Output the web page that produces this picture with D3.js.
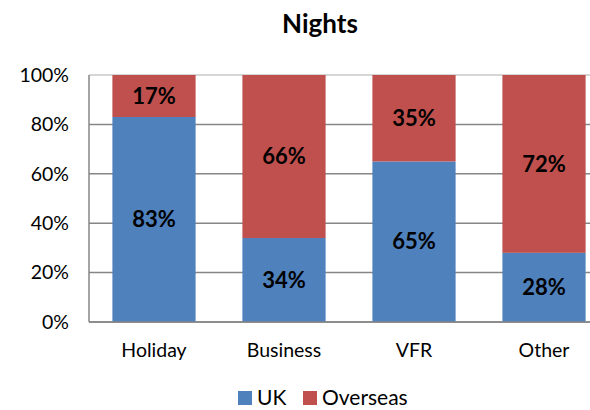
<!DOCTYPE html>
<head>
  <meta charset="utf-8">
  <title>Nights</title>
  <script src="https://cdn.jsdelivr.net/npm/d3@7"></script>
</head>

<style>
  body { margin: 0; background: #fff; }
  svg { font-family: Lato, "Open Sans", sans-serif; }
  .grid line { stroke: #868686; stroke-width: 1.5; }
  .axis-label { font-size: 19.5px; fill: #000; }
  .val-label { font-size: 22px; font-weight: bold; fill: #000; }
</style>

<body>
  <svg id='chart'></svg>
</body>

<script>

var categories = ['Holiday', 'Business', 'VFR', 'Other'],
    series = ['UK', 'Overseas'],
    uk = [83, 34, 65, 28],
    overseas = [17, 66, 35, 72],
    y_ticks = [0, 20, 40, 60, 80, 100];

var colours = {'UK': '#4F81BD', 'Overseas': '#C0504D'};

var width = 590, height = 410,
    plot_left = 89, plot_top = 75, plot_bottom = 322,
    step = 130;

var svg = d3.select('#chart').attr('width', width).attr('height', height);

var x = d3.scaleBand()
  .domain(categories)
  .range([plot_left, plot_left + step * categories.length])
  .paddingInner(0.36)
  .paddingOuter(0.18);

var y = d3.scaleLinear().domain([0, 100]).range([plot_bottom, plot_top]);

// gridlines
svg.append('g').attr('class', 'grid')
  .selectAll('line')
  .data(y_ticks)
  .enter().append('line')
  .attr('x1', plot_left).attr('x2', width)
  .attr('y1', function(d) { return y(d); })
  .attr('y2', function(d) { return y(d); })
  .style('stroke', function(d) { return d == 100 ? '#c8c8c8' : '#868686'; });

var rows = categories.map(function(c, i) { return {cat: c, UK: uk[i], Overseas: overseas[i]}; });
var stacked = d3.stack().keys(series)(rows);

var layers = svg.selectAll('g.layer')
  .data(stacked)
  .enter().append('g')
  .attr('class', 'layer')
  .attr('fill', function(d) { return colours[d.key]; });

layers.selectAll('rect')
  .data(function(d) { return d; })
  .enter().append('rect')
  .attr('x', function(d) { return x(d.data.cat); })
  .attr('width', x.bandwidth())
  .attr('y', function(d) { return y(d[1]); })
  .attr('height', function(d) { return y(d[0]) - y(d[1]); });

layers.selectAll('text')
  .data(function(d) { return d; })
  .enter().append('text')
  .attr('class', 'val-label')
  .attr('text-anchor', 'middle')
  .attr('dy', '0.35em')
  .attr('x', function(d) { return x(d.data.cat) + x.bandwidth() / 2; })
  .attr('y', function(d) { return y((d[0] + d[1]) / 2); })
  .text(function(d) { return Math.round(d[1] - d[0]) + '%'; });

// axes
svg.append('line')
  .attr('x1', plot_left).attr('x2', plot_left)
  .attr('y1', plot_top).attr('y2', plot_bottom)
  .style('stroke', '#868686').style('stroke-width', 1.5);
svg.append('line')
  .attr('x1', plot_left).attr('x2', width)
  .attr('y1', plot_bottom).attr('y2', plot_bottom)
  .style('stroke', '#868686').style('stroke-width', 1.5);

svg.selectAll('text.ytick')
  .data(y_ticks)
  .enter().append('text')
  .attr('class', 'axis-label ytick')
  .attr('text-anchor', 'end')
  .attr('dy', '0.35em')
  .attr('x', plot_left - 20)
  .attr('y', function(d) { return y(d); })
  .text(function(d) { return d + '%'; });

svg.selectAll('text.xtick')
  .data(categories)
  .enter().append('text')
  .attr('class', 'axis-label xtick')
  .attr('text-anchor', 'middle')
  .attr('x', function(d) { return x(d) + x.bandwidth() / 2; })
  .attr('y', 357)
  .text(function(d) { return d; });

// title
svg.append('text')
  .attr('x', 320).attr('y', 33)
  .attr('text-anchor', 'middle')
  .style('font-size', '26px').style('font-weight', 'bold')
  .text('Nights');

// legend
var legend_x = [238, 303];
var leg = svg.selectAll('g.legend')
  .data(series)
  .enter().append('g')
  .attr('class', 'legend')
  .attr('transform', function(d, i) { return 'translate(' + legend_x[i] + ',391)'; });
leg.append('rect')
  .attr('width', 14).attr('height', 14)
  .attr('fill', function(d) { return colours[d]; });
leg.append('text')
  .attr('class', 'axis-label')
  .attr('x', 19).attr('y', 14)
  .style('font-size', '21px')
  .text(function(d) { return d; });

</script>
